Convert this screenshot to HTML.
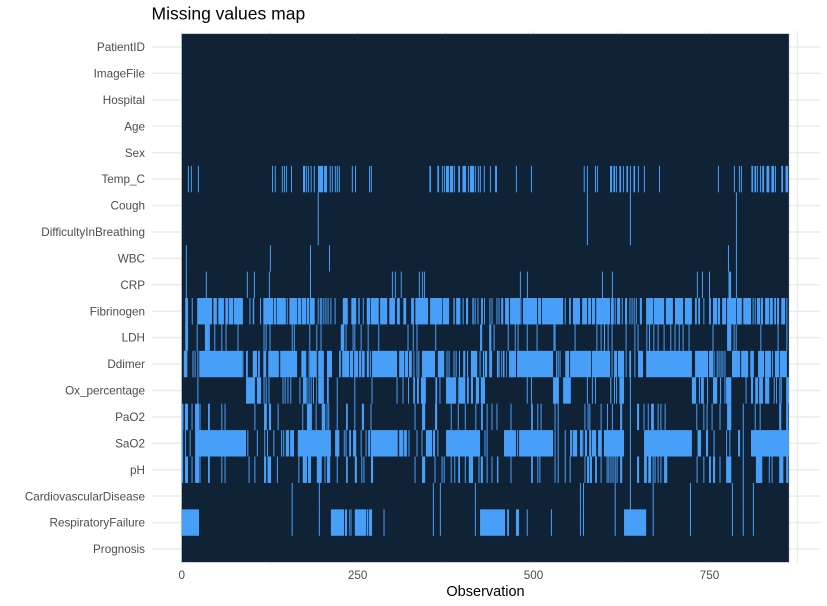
<!DOCTYPE html>
<html><head><meta charset="utf-8"><title>Missing values map</title>
<style>
html,body{margin:0;padding:0;background:#fff;width:827px;height:606px;overflow:hidden}
svg{display:block}
text{font-family:"Liberation Sans",Arial,sans-serif}
</style></head>
<body>
<svg id="chart" width="827" height="606" viewBox="0 0 827 606" xmlns="http://www.w3.org/2000/svg">
<text x="151.5" y="19.5" font-size="17.5" fill="#000">Missing values map</text>
<text x="485.5" y="596" font-size="14.5" fill="#000" text-anchor="middle">Observation</text>
<g id="grid"></g>
<rect id="raster" fill="#102236" stroke="#8f9aa5" stroke-opacity="0.6" stroke-width="0.6"></rect>
<g id="marks"></g>
<g id="yLabels"></g>
<g id="xLabels"></g>
</svg>
<script>
const categories = ["PatientID","ImageFile","Hospital","Age","Sex","Temp_C","Cough","DifficultyInBreathing","WBC","CRP","Fibrinogen","LDH","Ddimer","Ox_percentage","PaO2","SaO2","pH","CardiovascularDisease","RespiratoryFailure","Prognosis"];
const observationCount = 863;
const xTickValues = [0,250,500,750];
const xGridValues = [0,125,250,375,500,625,750,875];
// Missing observations per variable: a number is one observation, a pair is a contiguous run.
const missPatientID = [];
const missImageFile = [];
const missHospital = [];
const missAge = [];
const missSex = [];
const missTempC = [9.5,13.7,23.7,129,133,143,146,149,156,[172.4,175.3],177,180,184,188.5,[193.7,200.9],[202.3,206.5],211,214,218.4,221,224,242.5,247,267,269.5,[352,354.3],[363.3,365.7],370.4,373.3,[375.6,379.9],[381.3,385.6],387.5,[393,395.5],[399,404],407.4,[409.7,415.4],417.3,421.6,424.4,430,438.7,[445.3,448],475.6,497,572,576.5,588,590.7,[608.7,611.6],[613.5,615.8],617.7,[622,624.4],627.7,[632,634.3],637.6,[642,644.3],649,657.5,679,762.7,785.4,792.5,795.4,[809.6,812],[813.9,816.2],818,822.4,[825,827.6],[831,835],[838,841.8],843.7,[852,854.6],[858,861.7]];
const missCough = [194,576.5,637.6,788.3];
const missDifficulty = [194,576.5,637.6,788.3];
const missWBC = [6.6,126,183,210,777,788.3];
const missCRP = [6.6,35,93.3,103.3,124.6,183,299.4,303.6,312,337.7,342,344.9,481.3,491.3,597.9,612,732.8,740,750,[777,780.7],788.3];
const missFibrinogen = [[5,9],15,[22,43],[45,50],[52,60],[62,66],[67,73],[74,87],97,[101,103],112,[116,130],[131,134],[135,148],150,[153,164],[165,170],[171,177],[178,181],[182,189],194,197,199,202,205,208,212,218,[229,236],[241,248],[251,253],258,[263,268],[269,280],[282,292],[295,303],[306,310],[315,319],[326,330],[332,350],[353,370],[371,380],[386,388],[390,396],400,[404,407],[413,415],417,421,[425.4,428],[429.7,431],438,441,448,451,[454,457],[459.5,465],[466.6,481],482,[485,505],[506.4,510.7],[512,542],545,[550.5,553],[556,566],[569,576],[577.5,581.7],[583,587.4],[589,608.7],[610,614],616,[618.7,623],626,[630,633],637,640,643,646,[651,654],[660,670],[671,685.5],[688,698],[701,712.5],[715,725],[729.5,732],[734,736.6],742,[749.4,752],[755,761],[762,765],[768,773.6],[775,788],[789,796],[798,809],812,815,[817.6,822],[823,826],[829,835],[836,840],[842,844.6],[846,849],[852,857.5],860];
const missLDH = [[5,9],22,[33,40],47,57,63,80,117,120,125.5,157,160,182,192,198,[226,231],233.5,243.5,246,255,265,280,321.6,329,334.4,361,[424,427],[437,440],444,464,474,478,491,505,529,530.6,559,590,596,[600,601.6],606,611.6,631.5,644,648.5,661,[664,665.6],671,677,685.5,695,701,707,712.5,721,755,[775,781],785,788,823,847.5,860];
const missDdimer = [[3,8],16,19,23,[25,86],87,[91.4,94],[101,107],[108.5,111],[116,120],[123,138],[140,164],[170,177],181,[182,192],[194,202],[206.5,213.6],[223.6,226],[228,238],[239,243.5],[245,250.6],[252,255],[256,260],[263,266],268,[270.5,306],[309,316],[317,321.6],[323,327],330,334.4,337,[341.5,360],[364,373],377,380,387,390,[394,395.5],[400,403],[405.5,407],[411,420],424,[428,430],[431,434],[437,441],[448,450],451,[454,455],457,458,[461,462],[465,475],[476.6,527.7],[532,533.4],535,537.7,[545,550.5],[552,581.7],[583,608.7],611.6,[614.4,618.7],[620,628.6],631.5,[636,638.6],644,[648.5,655.6],[660,725],[729.5,748],[749.4,755],756.5,761,763.6,766.5,769,772,[782,793.5],[795,805],[808,813],[819,827.6],[829,837.5],[839,840.4],[843,849],[850,860]];
const missOx = [23,[91.4,104],[107,112.7],117,120,124,144,147,151,155,168,[172.4,177],178,181,184,[186.6,188],[191,192],[194,202],[206.5,209],221,246,270.5,306,314.5,[321.6,323],[329,331.6],[334.4,337],[340,347],[360.5,363],367,[375.6,390],[393,403],[405.5,408],[411,414],[418,422.5],[425,431],491,497,[527.7,536],[542,553],576.5,583.6,588,[609,610.6],615,618,[622,628.6],637.6,[725,731],[735,736.6],[738,742],[746.6,748],[755,761],[765,766.5],772,[773.6,781],802,[809,812],[815,819],[820.5,826],[829,835],842,[844.7,846],850,852,[859,863]];
const missPaO2 = [[0,2.4],[4.7,9],14.7,[19,24.6],26,[37.4,40],57,61.6,104,[117,121],[124,127],137,172,[178,185],191,[199,204],206.5,209,221,[233.5,236],246,[256,259],269,331.6,[341.5,346],[360,363],383,393,403,418,[425.4,428],434,441,448,468,[496.5,499],506,510.7,530.6,535,573,577.5,580,596,605,612,[623,626],637.6,[647,650],657,663,[667,671],677,681,687,732,742,746.6,753.7,765,[775,781],798,815,822,[849,852],[859,862]];
const missSaO2 = [[0,2],[4.7,6],12,[19,91.4],94,107.5,118,122,131,142,145,[148,152.5],[154,159.6],[165,212],[218,224],231,233.5,[238,240.6],[243.5,248],255,262,[265,268],[269,307],[309,315],[316,320],323,334.4,341.5,[347,355.7],[357,360],364,[375.6,424],431,434,[458,475],[476.6,478],[479.4,527.7],530.6,535,545,[552,555],[556,562],[566,569],570,[573,576],[579,582],[583,589],[591.7,597],[600,628.6],637.6,[657,725],[733,738],[745,748],756.5,[773.6,775],779,[790.6,793.5],798,[809,864]];
const missPH = [[0,2],[4.7,9],14.7,[19,24.6],26,[37.4,40],57,61.6,95.7,104,[117,120],[122,127],136,166.5,[172,178],[179.5,183.8],[192,199],203.7,[206.5,211],221,[233.5,236],[246,249],256,259,[269,272],331.6,[341.5,346],360,370,373,383,388,[393,395.5],403,[408,414],422.5,[425,428],434,441,[448,450],468,[496.5,499],506,509,530.6,535,545,552,573,[576,579],[580,583],[587.4,590],596,604.5,607,610,613,616,618.7,[623,626],637.6,[647,650],[657,661],[663,667],670,672.7,677,681,[685.5,690],732.4,742,[749.4,752],[755,758],765,[773.6,781],798,[816,825],835,839,[849,855],[859,862]];
const missCardio = [157,195.6,357.6,367.6,417.3,566.6,571,616,637.6,670,723,782.6,798,812.4];
const missRespiratory = [[0,24.6],157,195.6,[212,230.7],[232,235],[238,239],240.6,[246,262],[263,265],[266,270.5],287.5,357.6,367.6,417.3,[424,459.5],[462.4,465],[475,479.4],491,525.4,566.6,571,616,[628.6,660],670,723,782.6,798,812.4];
const missPrognosis = [];
const seriesValues = [missPatientID,missImageFile,missHospital,missAge,missSex,missTempC,missCough,missDifficulty,missWBC,missCRP,missFibrinogen,missLDH,missDdimer,missOx,missPaO2,missSaO2,missPH,missCardio,missRespiratory,missPrognosis];

const NS = "http://www.w3.org/2000/svg";
const plot = {x0:181.7, pxPerObs:0.7037, rowTop:33.8, rowH:26.42, panelL:152, panelR:820, panelT:31, panelB:564};
function xScale(v){ return plot.x0 + v*plot.pxPerObs; }
function yBand(i){ return plot.rowTop + i*plot.rowH; }
function yCenter(i){ return yBand(i) + plot.rowH/2; }
function slug(s){ return s.toLowerCase().replace(/[^a-z0-9]+/g,'-'); }
function make(tag, attrs, parent){
  const el = document.createElementNS(NS, tag);
  for (const k in attrs) el.setAttribute(k, attrs[k]);
  parent.appendChild(el);
  return el;
}
const gridG = document.getElementById('grid');
categories.forEach(function(c,i){
  const ln = make('line',{x1:plot.panelL,x2:plot.panelR,y1:yCenter(i),y2:yCenter(i),stroke:'#ebebeb','stroke-width':1.5},gridG);
  
  
});
xGridValues.forEach(function(v){
  const ln = make('line',{x1:xScale(v),x2:xScale(v),y1:plot.panelT,y2:plot.panelB,stroke:'#ebebeb','stroke-width':1.3},gridG);
  
  
});
const raster = document.getElementById('raster');
raster.setAttribute('x', xScale(0));
raster.setAttribute('y', yBand(0));
raster.setAttribute('width', xScale(observationCount)-xScale(0));
raster.setAttribute('height', yBand(categories.length)-yBand(0));
const marks = document.getElementById('marks');
seriesValues.forEach(function(list,i){
  list.forEach(function(m){
    const isRun = Array.isArray(m);
    const a = isRun ? xScale(m[0]) : xScale(m)-0.5;
    const b = isRun ? xScale(Math.min(m[1],observationCount)) : xScale(m)+0.5;
    const r = make('rect',{x:a,y:yBand(i),width:b-a,height:plot.rowH,fill:'#489ff8'},marks);
    
    
  });
});
const yL = document.getElementById('yLabels');
categories.forEach(function(c,i){
  const t = make('text',{x:145,y:yCenter(i)+4.1,'font-size':11.7,fill:'#4d4d4d','text-anchor':'end'},yL);
  t.textContent = c;
  
  
});
const xL = document.getElementById('xLabels');
xTickValues.forEach(function(v){
  const t = make('text',{x:xScale(v),y:579,'font-size':11.7,fill:'#4d4d4d','text-anchor':'middle'},xL);
  t.textContent = v;
  
  
});
</script>
</body></html>
